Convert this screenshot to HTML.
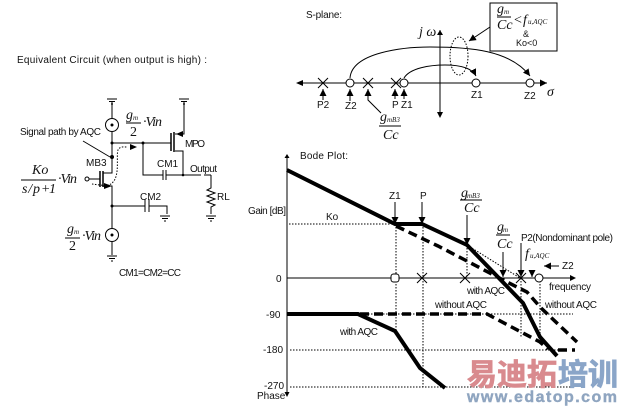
<!DOCTYPE html>
<html><head><meta charset="utf-8"><style>
html,body{margin:0;padding:0;background:#fff;width:621px;height:407px;overflow:hidden}
svg{display:block}
text{font-family:"Liberation Sans",sans-serif;font-size:10px;fill:#111}
.m{font-family:"Liberation Serif",serif;font-style:italic;font-size:14px}
.b{font-family:"Liberation Serif",serif;font-size:14px}
.s{font-family:"Liberation Serif",serif;font-style:italic;font-size:7px}
.l{stroke:#000;stroke-width:1;fill:none}
.d{stroke:#000;stroke-width:1;fill:none;stroke-dasharray:1.5 1.5}
.t{stroke:#000;stroke-width:4;fill:none}
.td{stroke:#000;stroke-width:3.5;fill:none;stroke-dasharray:9 5}
</style></head><body>
<svg width="621" height="407" viewBox="0 0 621 407" xmlns="http://www.w3.org/2000/svg">
<defs>
<marker id="a" markerUnits="userSpaceOnUse" markerWidth="8" markerHeight="8" refX="7" refY="3.500" orient="auto"><path d="M0 0L7 3.500L0 7z" fill="#000"/></marker>
<g id="gnd"><path class="l" d="M-5 0H5M-3 2.500H3M-1 5H1"/></g>
</defs>
<!-- Equivalent circuit -->
<text x="17" y="63" textLength="190">Equivalent Circuit (when output is high) :</text>
<use href="#gnd" x="112" y="99"/>
<use href="#gnd" x="184" y="99"/>
<path class="l" d="M112 101V118M112 132V143M112 143V165"/>
<circle class="l" cx="112" cy="125" r="6.500"/>
<circle cx="112" cy="125" r="1.500"/>
<path class="l" d="M112 143H171M143 143V175H163M166 175H201M183 175V151H175M175 134H184V101M204 175H211"/>
<path d="M171 133V151" stroke="#000" stroke-width="1.500"/>
<path d="M174 132V152" stroke="#000" stroke-width="1.500"/>
<path d="M176 134L183 131V137z" fill="#000"/>
<path class="l" d="M163 170V180M166 170V180"/>
<circle cx="183" cy="175" r="1.300"/>
<circle cx="112" cy="143" r="1.500"/><circle cx="143" cy="143" r="1.500"/>
<!-- MB3 -->
<path class="l" d="M112 143V173H103M103 186H112V228M89 179H100"/>
<circle class="l" cx="87" cy="179" r="2"/>
<path d="M100 171V187M103 171V187" stroke="#000" stroke-width="1.500"/>
<path d="M112 186L104 183V189z" fill="#000"/>
<circle cx="112" cy="157" r="2"/>
<path class="l" d="M83 141L110 157"/>
<path class="l" d="M112 206H145M149 206H167V214"/>
<path class="l" d="M145 199V212M149 199V212"/>
<circle cx="112" cy="206" r="1.500"/>
<use href="#gnd" x="165" y="216"/>
<circle class="l" cx="112" cy="235" r="6.500"/><circle cx="112" cy="235" r="1.500"/>
<path class="l" d="M112 242V255"/>
<use href="#gnd" x="112" y="256"/>
<path class="d" d="M92 184C100 185 110 187 113 182C120 175 116 155 118 150C120 146 124 147 127 147"/>
<path d="M137 147L130 144V150z" fill="#000"/>
<path class="l" d="M211 175V188L207 190L215 193L207 196L215 199L207 202L215 205L211 207V214"/>
<use href="#gnd" x="211" y="216"/>
<text x="20" y="135" textLength="81">Signal path by AQC</text>
<text x="86" y="166">MB3</text>
<text x="185" y="147" textLength="20">MPO</text>
<text x="157" y="167">CM1</text>
<text x="190" y="172" textLength="27">Output</text>
<text x="140" y="200">CM2</text>
<text x="217" y="200">RL</text>
<text x="119" y="276" textLength="62">CM1=CM2=CC</text>
<text class="m" x="126" y="119">g</text><text class="s" x="133" y="120">m</text>
<path class="l" d="M126 123H141"/><text class="b" x="130" y="136">2</text>
<text class="m" x="143" y="126" textLength="19">·Vin</text>
<text class="m" x="32" y="174">Ko</text>
<path class="l" d="M21 180H56"/>
<text class="m" x="22" y="193" textLength="34">s / p +1</text>
<text class="m" x="58" y="183" textLength="19">·Vin</text>
<text class="m" x="67" y="233">g</text><text class="s" x="74" y="234">m</text>
<path class="l" d="M65 238H80"/><text class="b" x="69" y="250">2</text>
<text class="m" x="82" y="240" textLength="19">·Vin</text>
<!-- S-plane -->
<text x="306" y="18" textLength="36">S-plane:</text>
<rect class="l" x="490" y="3" width="67" height="48"/>
<text class="m" x="497" y="13">g</text><text class="s" x="504" y="14">m</text>
<path class="l" d="M497 17H511"/><text class="m" x="497" y="29">Cc</text>
<text class="m" x="514" y="24" style="font-style:normal">&lt;</text>
<text class="m" x="523" y="24">f</text><text class="s" x="528" y="24">u,AQC</text>
<text x="523" y="37" style="font-size:9px">&amp;</text>
<text x="516" y="46" style="font-size:9px">Ko&lt;0</text>
<path class="l" d="M298 83H547" marker-end="url(#a)"/>
<path d="M296 83L303 80V86z" fill="#000"/>
<path class="l" d="M440 30V117"/>
<path d="M440 30L437 35H443z" fill="#000"/><path d="M440 118L437 112H443z" fill="#000"/>
<text class="m" x="419" y="36">j ω</text>
<text class="m" x="547" y="96">σ</text>
<ellipse class="d" cx="459" cy="56" rx="9" ry="19"/>
<path class="l" d="M490 27L469 41" marker-end="url(#a)"/>
<path class="l" d="M350 78C352 52 405 47 430 47C470 47 510 50 530 76" marker-end="url(#a)"/>
<path class="l" d="M404 78C410 68 430 65 445 65C460 65 472 68 476 76" marker-end="url(#a)"/>
<g fill="#fff" stroke="#000"><circle cx="350" cy="83" r="4"/><circle cx="404" cy="83" r="4"/><circle cx="476" cy="83" r="4"/><circle cx="530" cy="83" r="4"/></g>
<path class="l" d="M318 78l10 10M328 78l-10 10M363 78l10 10M373 78l-10 10M391 78l10 10M401 78l-10 10"/>
<path class="l" d="M323 100V89" marker-end="url(#a)"/>
<path class="l" d="M350 101V89" marker-end="url(#a)"/>
<path class="l" d="M395 99V89" marker-end="url(#a)"/>
<path class="l" d="M404 99V89" marker-end="url(#a)"/>
<path class="l" d="M381 113L368 100V89" marker-end="url(#a)"/>
<text x="317" y="108">P2</text>
<text x="345" y="109">Z2</text>
<text x="392" y="108">P</text>
<text x="401" y="108">Z1</text>
<text x="471" y="98">Z1</text>
<text x="524" y="99">Z2</text>
<text class="m" x="380" y="121">g</text><text class="s" x="387" y="122">mB3</text>
<path class="l" d="M379 126H401"/><text class="m" x="383" y="139">Cc</text>
<!-- Bode -->
<text x="300" y="159" textLength="48">Bode Plot:</text>
<path class="l" d="M287 155V395"/>
<path d="M287 154L284.500 158H289.500z" fill="#000"/><path d="M287 397L284.500 392H289.500z" fill="#000"/>
<path class="l" d="M287 278H572"/><path d="M576 278L570 275V281z" fill="#000"/>
<path class="d" d="M289 224H395M396 224V331M423 224V387M467 245V278M521 278V337M540 278V340M467 245L520 278"/>
<path class="d" d="M287 314H573M290 350H560M290 387H575"/>
<path class="td" d="M396 226L438 246L465 260L507 282L527 292L541 308L577 342"/>
<path class="td" d="M360 314H487L540 342L548 349M558 350H575"/>
<path class="t" d="M287 170L395 224H422L467 245L523 303L540 337L557 356"/>
<path class="t" d="M287 314H358L395 331L420 368L445 388"/>
<path class="l" d="M395 202V224" marker-end="url(#a)"/>
<path class="l" d="M422 202V224" marker-end="url(#a)"/>
<path class="l" d="M467 215V245" marker-end="url(#a)"/>
<path class="l" d="M503 252V277" marker-end="url(#a)"/>
<path class="l" d="M521 243V277" marker-end="url(#a)"/>
<path class="l" d="M532 270V277" marker-end="url(#a)"/>
<path class="l" d="M559 266H544" marker-end="url(#a)"/>
<rect x="391" y="274" width="8" height="8" rx="2.500" fill="#fff" stroke="#000"/>
<circle cx="539" cy="278" r="4" fill="#fff" stroke="#000"/>
<path class="l" d="M417 273l10 10M427 273l-10 10M460 273l10 10M470 273l-10 10M516 273l10 10M526 273l-10 10"/>
<text x="248" y="214" textLength="38">Gain [dB]</text>
<text x="326" y="220">Ko</text>
<text x="276" y="282">0</text>
<text x="266" y="318">-90</text>
<text x="263" y="353">-180</text>
<text x="264" y="389">-270</text>
<text x="257" y="399">Phase</text>
<text x="389" y="199">Z1</text>
<text x="420" y="199">P</text>
<text class="m" x="461" y="197">g</text><text class="s" x="467" y="198">mB3</text>
<path class="l" d="M460 200H482"/><text class="m" x="464" y="212">Cc</text>
<text class="m" x="497" y="231">g</text><text class="s" x="503" y="232">m</text>
<path class="l" d="M496 235H510"/><text class="m" x="497" y="248">Cc</text>
<text x="521" y="241" textLength="92">P2(Nondominant pole)</text>
<text class="m" x="525" y="258">f</text><text class="s" x="530" y="258">u,AQC</text>
<text x="562" y="269">Z2</text>
<text x="549" y="290" textLength="42">frequency</text>
<text x="467" y="294" textLength="38">with AQC</text>
<text x="435" y="308" textLength="52">without AQC</text>
<text x="545" y="308" textLength="52">without AQC</text>
<text x="340" y="335" textLength="38">with AQC</text>
<!-- Watermark -->
<text x="467" y="385" style="font-family:'Noto Sans CJK SC',sans-serif;font-weight:700;font-size:30px;fill:#d98a8e;stroke:#d98a8e;stroke-width:.8" textLength="90">易迪拓</text>
<text x="558" y="385" style="font-family:'Noto Sans CJK SC',sans-serif;font-weight:700;font-size:30px;fill:#8aa5c8;stroke:#8aa5c8;stroke-width:.8" textLength="60">培训</text>
<text x="467" y="402" style="font-weight:700;font-size:16px;fill:#8fa5c0;stroke:#8fa5c0;stroke-width:.4" textLength="150">www.edatop.com</text>
</svg>
</body></html>
